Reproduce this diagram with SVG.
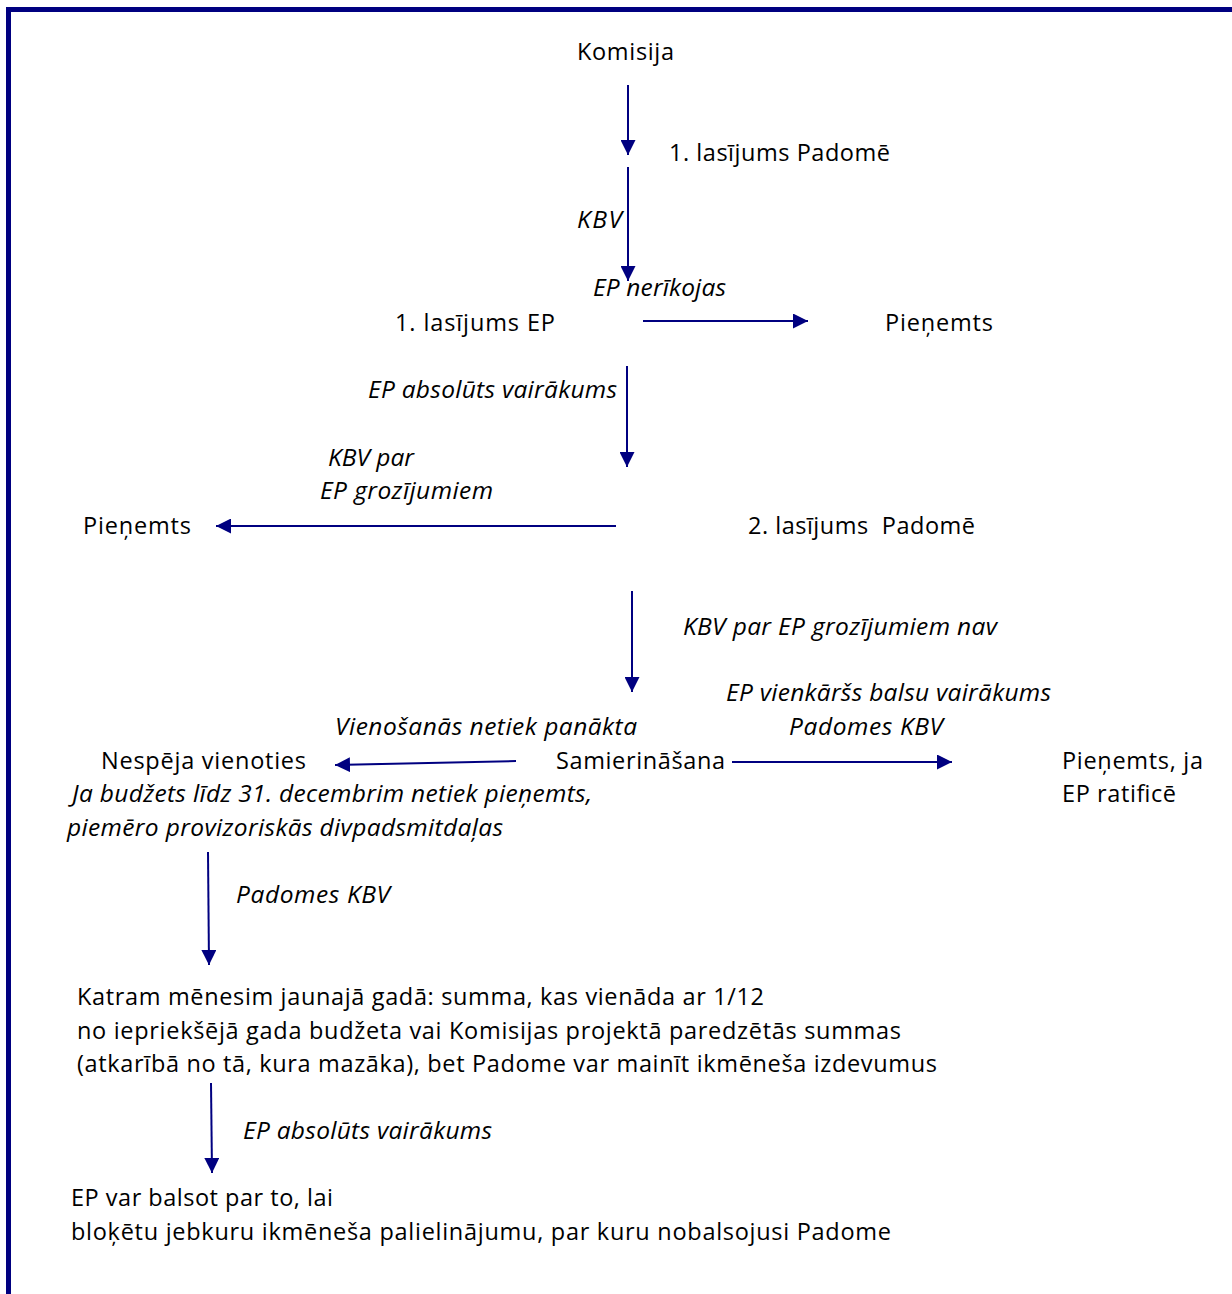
<svg xmlns="http://www.w3.org/2000/svg" width="1232" height="1294" viewBox="0 0 1232 1294">
<style>
text{font-family:"Open Sans","Noto Sans","Liberation Sans",sans-serif;font-size:23.5px;fill:#000}
.i{font-style:italic;font-size:24.5px}
.c line{stroke:#000080;stroke-width:2;fill:none}
</style>
<defs>
<marker id="ah" viewBox="0 0 15 15" refX="15" refY="7.5" markerWidth="15" markerHeight="15" markerUnits="userSpaceOnUse" orient="auto">
<path d="M0,0 L15,7.5 L0,15 Z" fill="#000080"/>
</marker>
</defs>
<rect width="1232" height="1294" fill="#fff"/>
<path d="M8.5,1294 V9.5 H1232" fill="none" stroke="#000080" stroke-width="5"/>
<g class="c" id="connectors">
<line x1="628" y1="85" x2="628" y2="155" marker-end="url(#ah)"/>
<line x1="628" y1="167" x2="628" y2="281" marker-end="url(#ah)"/>
<line x1="643" y1="321" x2="808" y2="321" marker-end="url(#ah)"/>
<line x1="627" y1="366" x2="627" y2="467" marker-end="url(#ah)"/>
<line x1="616" y1="526" x2="216" y2="526" marker-end="url(#ah)"/>
<line x1="632" y1="591" x2="632" y2="692" marker-end="url(#ah)"/>
<line x1="516" y1="761" x2="335" y2="765" marker-end="url(#ah)"/>
<line x1="732" y1="762" x2="952" y2="762" marker-end="url(#ah)"/>
<line x1="208" y1="852" x2="209" y2="965" marker-end="url(#ah)"/>
<line x1="211" y1="1083" x2="212" y2="1173" marker-end="url(#ah)"/>
</g>
<g id="komisija"><text x="577" y="60" textLength="97">Komisija</text></g>
<g id="lasijums1-padome"><text x="669" y="161" textLength="221">1. lasījums Padomē</text></g>
<g id="lbl-kbv"><text class="i" x="577" y="228" textLength="45">KBV</text></g>
<g id="lbl-ep-nerikojas"><text class="i" x="593" y="296" textLength="133">EP nerīkojas</text></g>
<g id="lasijums1-ep"><text x="395" y="331" textLength="160">1. lasījums EP</text></g>
<g id="pienemts1"><text x="885" y="331" textLength="108">Pieņemts</text></g>
<g id="lbl-ep-abs1"><text class="i" x="368" y="398" textLength="249">EP absolūts vairākums</text></g>
<g id="lbl-kbv-par"><text class="i" x="328" y="466" textLength="86">KBV par</text><text class="i" x="320" y="499" textLength="173">EP grozījumiem</text></g>
<g id="pienemts2"><text x="83" y="534" textLength="108">Pieņemts</text></g>
<g id="lasijums2-padome"><text x="748" y="534" textLength="227" xml:space="preserve">2. lasījums  Padomē</text></g>
<g id="lbl-kbv-nav"><text class="i" x="683" y="635" textLength="314">KBV par EP grozījumiem nav</text></g>
<g id="lbl-ep-vienk"><text class="i" x="726" y="701" textLength="325">EP vienkāršs balsu vairākums</text><text class="i" x="789" y="735" textLength="154">Padomes KBV</text></g>
<g id="lbl-vienosanas"><text class="i" x="335" y="735" textLength="302">Vienošanās netiek panākta</text></g>
<g id="nespeja"><text x="101" y="769" textLength="205">Nespēja vienoties</text></g>
<g id="samierinasana"><text x="556" y="769" textLength="169">Samierināšana</text></g>
<g id="pienemts3"><text x="1062" y="769" textLength="141">Pieņemts, ja</text><text x="1062" y="802" textLength="114">EP ratificē</text></g>
<g id="lbl-ja-budzets"><text class="i" x="72" y="802" textLength="520">Ja budžets līdz 31. decembrim netiek pieņemts,</text><text class="i" x="67" y="836" textLength="436">piemēro provizoriskās divpadsmitdaļas</text></g>
<g id="lbl-padomes-kbv2"><text class="i" x="236" y="903" textLength="154">Padomes KBV</text></g>
<g id="katram"><text x="77" y="1005" textLength="687">Katram mēnesim jaunajā gadā: summa, kas vienāda ar 1/12</text><text x="77" y="1039" textLength="824">no iepriekšējā gada budžeta vai Komisijas projektā paredzētās summas</text><text x="77" y="1072" textLength="860">(atkarībā no tā, kura mazāka), bet Padome var mainīt ikmēneša izdevumus</text></g>
<g id="lbl-ep-abs2"><text class="i" x="243" y="1139" textLength="249">EP absolūts vairākums</text></g>
<g id="ep-var"><text x="71" y="1206" textLength="262">EP var balsot par to, lai</text><text x="71" y="1240" textLength="820">bloķētu jebkuru ikmēneša palielinājumu, par kuru nobalsojusi Padome</text></g>
</svg>
